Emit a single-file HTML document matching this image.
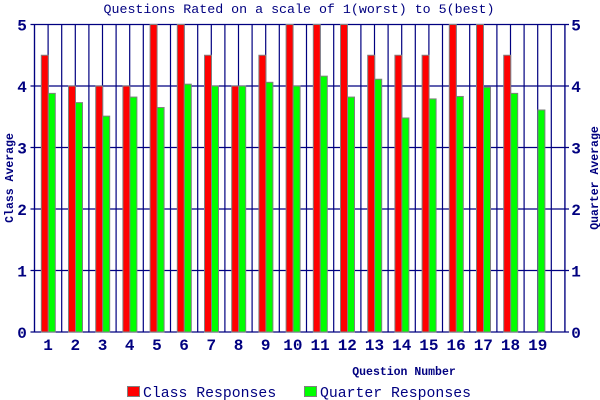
<!DOCTYPE html>
<html><head><meta charset="utf-8"><style>
html,body{margin:0;padding:0;background:#fff;}
svg{display:block;}
text{font-family:"Liberation Mono",monospace;fill:#000080;}
</style></head><body>
<svg width="600" height="400" viewBox="0 0 600 400" xmlns="http://www.w3.org/2000/svg">
<rect width="600" height="400" fill="#fff"/>
<text x="299" y="13" font-size="13.3" text-anchor="middle">Questions Rated on a scale of 1(worst) to 5(best)</text>
<g id="grid" stroke="#000080" stroke-width="1.2" fill="none"></g>
<g id="bars"></g>
<g id="labels"></g>
<text x="404" y="375" font-size="11.5" font-weight="bold" text-anchor="middle">Question Number</text>
<text transform="translate(13,178) rotate(-90)" font-size="11.5" font-weight="bold" text-anchor="middle">Class Average</text>
<text transform="translate(598,178) rotate(-90)" font-size="11.5" font-weight="bold" text-anchor="middle">Quarter Average</text>
<rect x="127.5" y="386.5" width="12" height="10" fill="#ff0000" stroke="#808080"/>
<text x="143" y="397" font-size="14.8">Class Responses</text>
<rect x="304.5" y="386.5" width="12" height="10" fill="#00ff00" stroke="#808080"/>
<text x="320" y="397" font-size="14.8">Quarter Responses</text>
</svg>
<script>
var ns="http://www.w3.org/2000/svg";
var svg=document.querySelector('svg');
var g=document.getElementById('grid'),b=document.getElementById('bars'),l=document.getElementById('labels');
function el(p,t,a,txt){var e=document.createElementNS(ns,t);for(var k in a)e.setAttribute(k,a[k]);if(txt!=null)e.textContent=txt;p.appendChild(e);return e;}
var L=34.5,R=565,T=24.5,B=332,u=(B-T)/5,h=13.6;
for(var i=0;i<=39;i++){var x=L+i*h;el(g,'line',{x1:x,y1:T,x2:x,y2:B});}
for(var v=0;v<=5;v++){var y=B-v*u;el(g,'line',{x1:L-4,y1:y,x2:R+4,y2:y});
el(l,'text',{x:22,y:y+6,'font-size':16,'font-weight':'bold','text-anchor':'middle'},v);
el(l,'text',{x:576,y:y+6,'font-size':16,'font-weight':'bold','text-anchor':'middle'},v);}
var red=[4.5,4,4,4,5,5,4.5,4,4.5,5,5,5,4.5,4.5,4.5,5,5,4.5,null];
var grn=[3.88,3.73,3.51,3.82,3.65,4.03,4.0,4.0,4.06,4.0,4.16,3.82,4.11,3.48,3.79,3.83,3.98,3.88,3.61];
for(var i=0;i<19;i++){var x0=L+i*2*h;
if(red[i]!=null)el(b,'rect',{x:x0+6.8,y:B-red[i]*u,width:7,height:red[i]*u,fill:'#ff0000',stroke:'#808080','stroke-width':1});
el(b,'rect',{x:x0+13.8,y:B-grn[i]*u,width:7,height:grn[i]*u,fill:'#00ff00',stroke:'#808080','stroke-width':1});
el(l,'text',{x:x0+h,y:350,'font-size':16,'font-weight':'bold','text-anchor':'middle'},i+1);}
el(g,'line',{x1:L,y1:T,x2:L,y2:B});el(g,'line',{x1:R,y1:T,x2:R,y2:B});
</script>
</body></html>
